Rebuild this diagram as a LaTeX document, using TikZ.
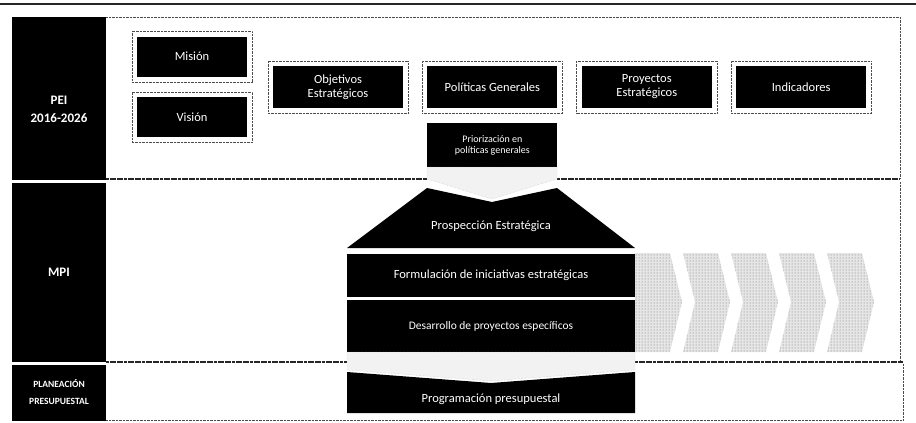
\documentclass[tikz,border=0pt]{standalone}
\usepackage{fontspec}
\setmainfont{Carlito}
\usetikzlibrary{positioning,fit,patterns}
\tikzset{
  caja/.style={
    % The shape:
    shape=rectangle,inner sep=0pt,
    % The filling:
    fill=black,
    % The text:
    text=white,align=center,
    font=\fontsize{12.5}{14}\selectfont
  }}
\tikzset{
	marco/.style={
		% The frame round a box
		rectangle,inner sep=5pt,
		draw=black!70,densely dotted}}
\tikzset{
	etiqueta/.style={
		% The labels on the left
		rectangle,minimum width=94pt,inner sep=0pt,
		fill=black,text=white,align=center,
		font=\bfseries\fontsize{13}{18}\selectfont}}
\tikzset{
	flecha/.style={fill=black!5,draw=black!25,densely dotted},
	paso/.style={pattern=dots,pattern color=black!55,preaction={fill=black!10}},
	borde/.style={draw=black!70,densely dotted},
	corte/.style={line width=1.3pt,black!85,dash pattern=on 3pt off 0.6pt}}

\begin{document}
\begin{tikzpicture}[x=1pt,y=-1pt]
	\useasboundingbox (0,0) rectangle (916,423);
	\draw[line width=1.6pt,black!85] (0,4) -- (916,4);
	% Labels on the left
	\node[etiqueta,minimum height=163pt] (pei) at (59,98.5) {\rule{0pt}{31pt}PEI\\2016-2026};
	\node[etiqueta,minimum height=179pt] (mpi) at (59,272.5) {MPI};
	\node[etiqueta,minimum height=56pt,font=\bfseries\fontsize{9.5}{17}\selectfont] (plan) at (59,392.5) {PLANEACIÓN\\PRESUPUESTAL};
	% Panels
	\draw[borde] (106,17) -- (900,17) -- (900,179);
	\draw[borde] (900,182) -- (900,362);
	\draw[borde] (106,420) -- (903,420) -- (903,364);
	\draw[corte] (106,179) -- (427,179);
	\draw[corte] (557,179) -- (900,179);
	\draw[corte] (106,362) -- (347,362);
	\draw[corte] (635,362) -- (903,362);
	% Boxes of the PEI
	\node[caja,minimum width=110pt,minimum height=40pt] (mision) at (192,56.5) {Misión};
	\node[caja,minimum width=110pt,minimum height=40pt,below=20pt of mision] (vision) {Visión};
	\node[caja,minimum width=130pt,minimum height=42pt] (objetivos) at (338,87) {Objetivos\\Estratégicos};
	\node[caja,minimum width=130pt,minimum height=42pt,right=24pt of objetivos] (politicas) {Políticas Generales};
	\node[caja,minimum width=130pt,minimum height=42pt,right=24pt of politicas] (proyectos) {Proyectos\\Estratégicos};
	\node[caja,minimum width=130pt,minimum height=42pt,right=24pt of proyectos] (indicadores) {Indicadores};
	\node[caja,minimum width=130pt,minimum height=44pt,below=15pt of politicas,font=\fontsize{10}{11.5}\selectfont] (priorizacion) {Priorización en\\políticas generales};
	\foreach \n in {mision,vision,objetivos,politicas,proyectos,indicadores}
		\node[marco,fit=(\n)] (marco-\n) {};
	% Down into the MPI
	\path[flecha] (427,167) -- (557,167) -- (557,179) -- (492,199) -- (427,179) -- cycle;
	\fill (427,188) -- (492,202) -- (557,188) -- (635,248) -- (347,248) -- cycle;
	\node[caja,fill=none] (prospeccion) at (491,226) {Prospección Estratégica};
	\node[caja,minimum width=288pt,minimum height=43pt] (formulacion) at (491,275.5) {Formulación de iniciativas estratégicas};
	\node[caja,minimum width=288pt,minimum height=52pt,below=3pt of formulacion,font=\fontsize{11.5}{13}\selectfont] (desarrollo) {Desarrollo de proyectos específicos};
	% Steps on the right
	\foreach \x/\m in {635/0,683/12,731/12,779/12,827/12}
		\path[paso] (\x,253) -- ++(35,0) -- ++(12,49) -- ++(-12,50) -- ++(-35,0) -- ++(\m,-50) -- cycle;
	% Down into the budget
	\path[flecha] (347,352) -- (635,352) -- (635,370) -- (491,381) -- (347,370) -- cycle;
	\fill (347,372) -- (491,383) -- (635,372) -- (635,413) -- (347,413) -- cycle;
	\node[caja,fill=none] (programacion) at (491,399) {Programación presupuestal};
\end{tikzpicture}
\end{document}
